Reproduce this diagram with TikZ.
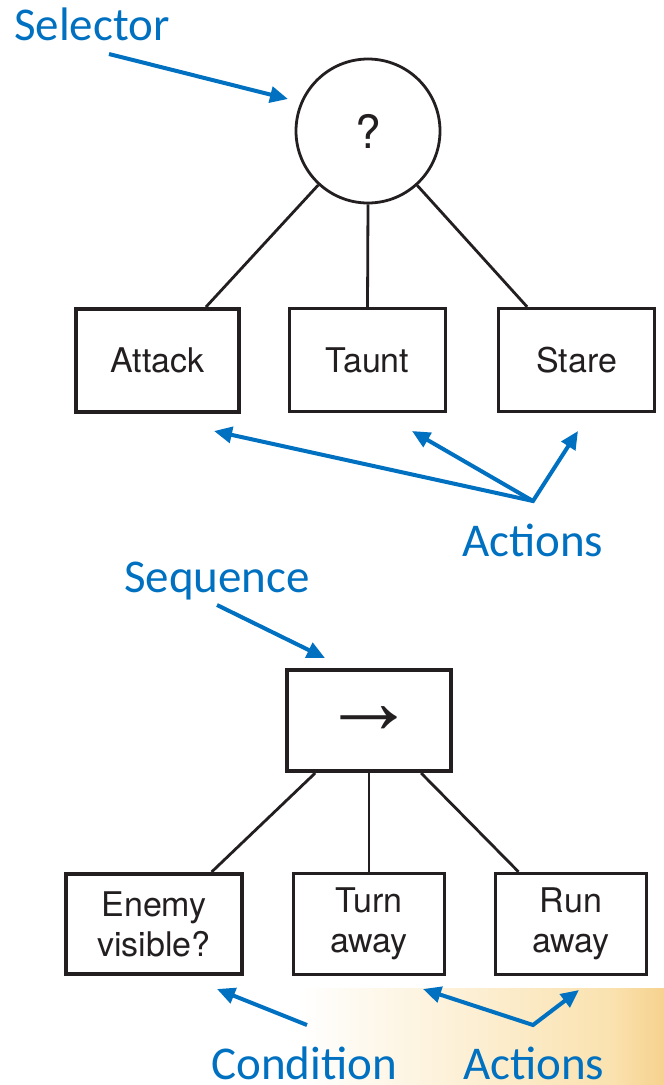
\documentclass[tikz,border=0pt]{standalone}
\usepackage{fontspec}
\setmainfont{TeX Gyre Heros}
\newfontfamily\labelfont{Carlito}
\newfontfamily\arrowfont{Liberation Sans}
\usetikzlibrary{arrows.meta,calc}
\definecolor{callout}{HTML}{0070C0}
\definecolor{ink}{HTML}{231F20}
\definecolor{warm}{RGB}{250,226,176}
\definecolor{warmedge}{RGB}{246,210,142}

\begin{document}
\begin{tikzpicture}[x=1pt,y=-1pt,
  bluetip/.tip={Triangle[length=18pt,width=16pt]},
  box/.style={draw=ink, line width=2.8pt, rectangle, inner sep=0pt, text=ink,
              font=\fontsize{34}{40}\selectfont, align=center},
  keybox/.style={box, line width=4pt},
  link/.style={draw=ink, line width=2.8pt},
  callout/.style={draw=callout, line width=4pt, -{bluetip}},
  tag/.style={text=callout, font=\labelfont\fontsize{47}{47}\selectfont,
              anchor=base west, inner sep=0pt}
]
\useasboundingbox (0,0) rectangle (664,1085);
\fill[white] (0,0) rectangle (664,1085);
% warm backdrop in the lower right corner
\shade[left color=white, right color=warm] (300,988) rectangle (610,1085);
\shade[left color=warm, right color=warmedge] (610,988) rectangle (664,1085);

% ---------- selector tree ----------
\node[draw=ink, line width=2.8pt, circle, minimum size=144pt, inner sep=0pt,
      text=ink, font=\fontsize{46}{46}\selectfont] (sel) at (368,131) {?};
\node[keybox, minimum width=163pt, minimum height=103pt] (att) at (157.5,360.5) {Attack};
\node[box, minimum width=156.5pt, minimum height=103.5pt] (tau) at (367.5,360) {Taunt};
\node[box, minimum width=156.5pt, minimum height=103.5pt] (sta) at (576.5,360) {Stare};

\path[link] (sel) -- ($(att.north west)!0.79!(att.north east)$);
\path[link] (sel.south) -- (tau.north);
\path[link] (sel) -- ($(sta.north west)!0.19!(sta.north east)$);

% ---------- sequence tree ----------
\node[keybox, minimum width=164pt, minimum height=101pt,
      font=\arrowfont\fontsize{95}{95}\selectfont] (seq) at (369,720.5)
  {\raisebox{-4pt}{→}};
\node[keybox, minimum width=176pt, minimum height=100pt] (ene) at (154,924) {Enemy\\visible?};
\node[box, minimum width=151.5pt, minimum height=101.5pt] (tur) at (369,924) {Turn\\away};
\node[box, minimum width=151.5pt, minimum height=101.5pt] (run) at (571,924) {Run\\away};

\path[link] ($(seq.south west)!0.18!(seq.south east)$) -- ($(ene.north west)!0.82!(ene.north east)$);
\path[link] (seq.south) -- (tur.north);
\path[link] ($(seq.south west)!0.81!(seq.south east)$) -- ($(run.north west)!0.16!(run.north east)$);

% ---------- callout labels ----------
\node[tag] (lsel) at (14,40) {Selector};
\node[tag] (lact) at (462,556) {Actions};
\node[tag] (lseq) at (124,592) {Sequence};
\node[tag] (lcon) at (211,1079) {Condition};
\node[tag] (lact2) at (463,1079) {Actions};

\coordinate (selT) at (109,54);
\coordinate (selH) at (288,99);
\coordinate (actJ) at (533,501);
\coordinate (attH) at (214,431);
\coordinate (tauH) at (412,431);
\coordinate (staH) at (578,431);
\coordinate (seqT) at (217,605);
\coordinate (seqH) at (325,658);
\coordinate (conT) at (307,1025);
\coordinate (eneH) at (217,989);
\coordinate (actJ2) at (533,1025);
\coordinate (turH) at (423,989);
\coordinate (runH) at (579,990);

\draw[callout] (selT) -- (selH);
\draw[callout, {bluetip}-{bluetip}] (attH) -- (actJ) -- (staH);
\draw[callout] (actJ) -- (tauH);
\draw[callout] (seqT) -- (seqH);
\draw[callout] (conT) -- (eneH);
\draw[callout, {bluetip}-{bluetip}] (turH) -- (actJ2) -- (runH);
\end{tikzpicture}
\end{document}
